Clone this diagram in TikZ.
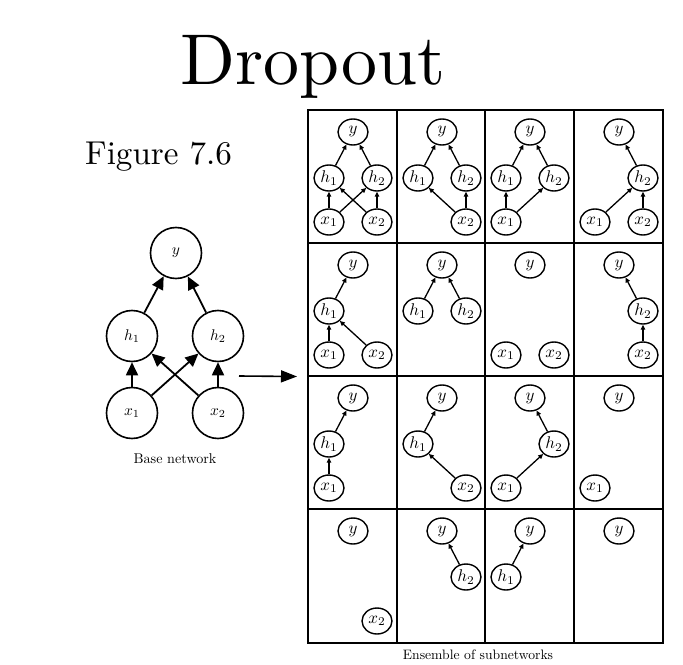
\documentclass[tikz,border=0pt]{standalone}
\usepackage{amsmath}
\usepackage{amssymb}
\usetikzlibrary{arrows.meta,shapes.geometric}

\tikzset{
	unit/.style={circle,draw,line width=1.6bp,minimum size=51bp,inner sep=0pt},
	subunit/.style={ellipse,draw,line width=1.4bp,minimum width=30bp,minimum height=26bp,inner sep=0pt},
	bigedge/.style={line width=1.8bp,-{Triangle[length=13bp,width=12bp]}},
	subedge/.style={line width=1.3bp,-{Triangle[length=5bp,width=4.5bp]}},
	cellrule/.style={line width=2bp},
}
\newcommand{\baselabel}[1]{\scalebox{1.55}{$#1$}}
\newcommand{\sublabel}[1]{\scalebox{1.7}{$#1$}}
% the five units of one subnetwork, placed inside a shifted cell
\newcommand{\uy}[1]{\node[subunit] (#1y) at (45,22) {\sublabel{y}};}
\newcommand{\uha}[1]{\node[subunit] (#1h1) at (21,68) {\sublabel{h_1}};}
\newcommand{\uhb}[1]{\node[subunit] (#1h2) at (69,68) {\sublabel{h_2}};}
\newcommand{\uxa}[1]{\node[subunit] (#1x1) at (21,112) {\sublabel{x_1}};}
\newcommand{\uxb}[1]{\node[subunit] (#1x2) at (69,112) {\sublabel{x_2}};}

\begin{document}
\begin{tikzpicture}[x=1bp,y=-1bp]
	\useasboundingbox (0,0) rectangle (683,665);
	\node[anchor=base,inner sep=0pt] (title) at (313,85) {\scalebox{7.22}{Dropout}};
	\node[anchor=base west,inner sep=0pt] (figno) at (85,164) {\scalebox{3.32}{Figure 7.6}};

	% base network
	\node[unit] (y) at (176,253) {\baselabel{y}};
	\node[unit] (h1) at (132,336) {\baselabel{h_1}};
	\node[unit] (h2) at (218,336) {\baselabel{h_2}};
	\node[unit] (x1) at (132,413) {\baselabel{x_1}};
	\node[unit] (x2) at (218,413) {\baselabel{x_2}};
	\draw[bigedge] (x1) -- (h1);
	\draw[bigedge] (x2) -- (h2);
	\draw[bigedge] (x1) -- (h2);
	\draw[bigedge] (x2) -- (h1);
	\draw[bigedge] (h1) -- (y);
	\draw[bigedge] (h2) -- (y);
	\node[anchor=base,inner sep=0pt] (basecap) at (175,463) {\scalebox{1.42}{Base network}};

	% ensemble grid
	\node[draw,cellrule,minimum width=355bp,minimum height=533bp,inner sep=0pt] (ensemble) at (485.5,376.5) {};
	\foreach \cx in {397,485,574}
		\draw[cellrule] (\cx,110) -- (\cx,643);
	\foreach \cy in {243,376,509}
		\draw[cellrule] (308,\cy) -- (663,\cy);
	\node[anchor=base,inner sep=0pt] (enscap) at (478,659) {\scalebox{1.37}{Ensemble of subnetworks}};
	\coordinate (feed) at (239,376);
	\draw[line width=1.6bp,-{Triangle[length=16bp,width=12bp]}] (feed) -- ([xshift=-10bp]ensemble.west);

	% row 1
	\begin{scope}[shift={(308,110)}]
		\uy{a}\uha{a}\uhb{a}\uxa{a}\uxb{a}
		\draw[subedge] (ax1) -- (ah1);
		\draw[subedge] (ax1) -- (ah2);
		\draw[subedge] (ax2) -- (ah1);
		\draw[subedge] (ax2) -- (ah2);
		\draw[subedge] (ah1) -- (ay);
		\draw[subedge] (ah2) -- (ay);
	\end{scope}
	\begin{scope}[shift={(397,110)}]
		\uy{b}\uha{b}\uhb{b}\uxb{b}
		\draw[subedge] (bx2) -- (bh1);
		\draw[subedge] (bx2) -- (bh2);
		\draw[subedge] (bh1) -- (by);
		\draw[subedge] (bh2) -- (by);
	\end{scope}
	\begin{scope}[shift={(485,110)}]
		\uy{c}\uha{c}\uhb{c}\uxa{c}
		\draw[subedge] (cx1) -- (ch1);
		\draw[subedge] (cx1) -- (ch2);
		\draw[subedge] (ch1) -- (cy);
		\draw[subedge] (ch2) -- (cy);
	\end{scope}
	\begin{scope}[shift={(574,110)}]
		\uy{d}\uhb{d}\uxa{d}\uxb{d}
		\draw[subedge] (dx1) -- (dh2);
		\draw[subedge] (dx2) -- (dh2);
		\draw[subedge] (dh2) -- (dy);
	\end{scope}

	% row 2
	\begin{scope}[shift={(308,243)}]
		\uy{e}\uha{e}\uxa{e}\uxb{e}
		\draw[subedge] (ex1) -- (eh1);
		\draw[subedge] (ex2) -- (eh1);
		\draw[subedge] (eh1) -- (ey);
	\end{scope}
	\begin{scope}[shift={(397,243)}]
		\uy{f}\uha{f}\uhb{f}
		\draw[subedge] (fh1) -- (fy);
		\draw[subedge] (fh2) -- (fy);
	\end{scope}
	\begin{scope}[shift={(485,243)}]
		\uy{g}\uxa{g}\uxb{g}
	\end{scope}
	\begin{scope}[shift={(574,243)}]
		\uy{h}\uhb{h}\uxb{h}
		\draw[subedge] (hx2) -- (hh2);
		\draw[subedge] (hh2) -- (hy);
	\end{scope}

	% row 3
	\begin{scope}[shift={(308,376)}]
		\uy{i}\uha{i}\uxa{i}
		\draw[subedge] (ix1) -- (ih1);
		\draw[subedge] (ih1) -- (iy);
	\end{scope}
	\begin{scope}[shift={(397,376)}]
		\uy{j}\uha{j}\uxb{j}
		\draw[subedge] (jx2) -- (jh1);
		\draw[subedge] (jh1) -- (jy);
	\end{scope}
	\begin{scope}[shift={(485,376)}]
		\uy{k}\uhb{k}\uxa{k}
		\draw[subedge] (kx1) -- (kh2);
		\draw[subedge] (kh2) -- (ky);
	\end{scope}
	\begin{scope}[shift={(574,376)}]
		\uy{l}\uxa{l}
	\end{scope}

	% row 4
	\begin{scope}[shift={(308,509)}]
		\uy{m}\uxb{m}
	\end{scope}
	\begin{scope}[shift={(397,509)}]
		\uy{n}\uhb{n}
		\draw[subedge] (nh2) -- (ny);
	\end{scope}
	\begin{scope}[shift={(485,509)}]
		\uy{o}\uha{o}
		\draw[subedge] (oh1) -- (oy);
	\end{scope}
	\begin{scope}[shift={(574,509)}]
		\uy{p}
	\end{scope}
\end{tikzpicture}
\end{document}
